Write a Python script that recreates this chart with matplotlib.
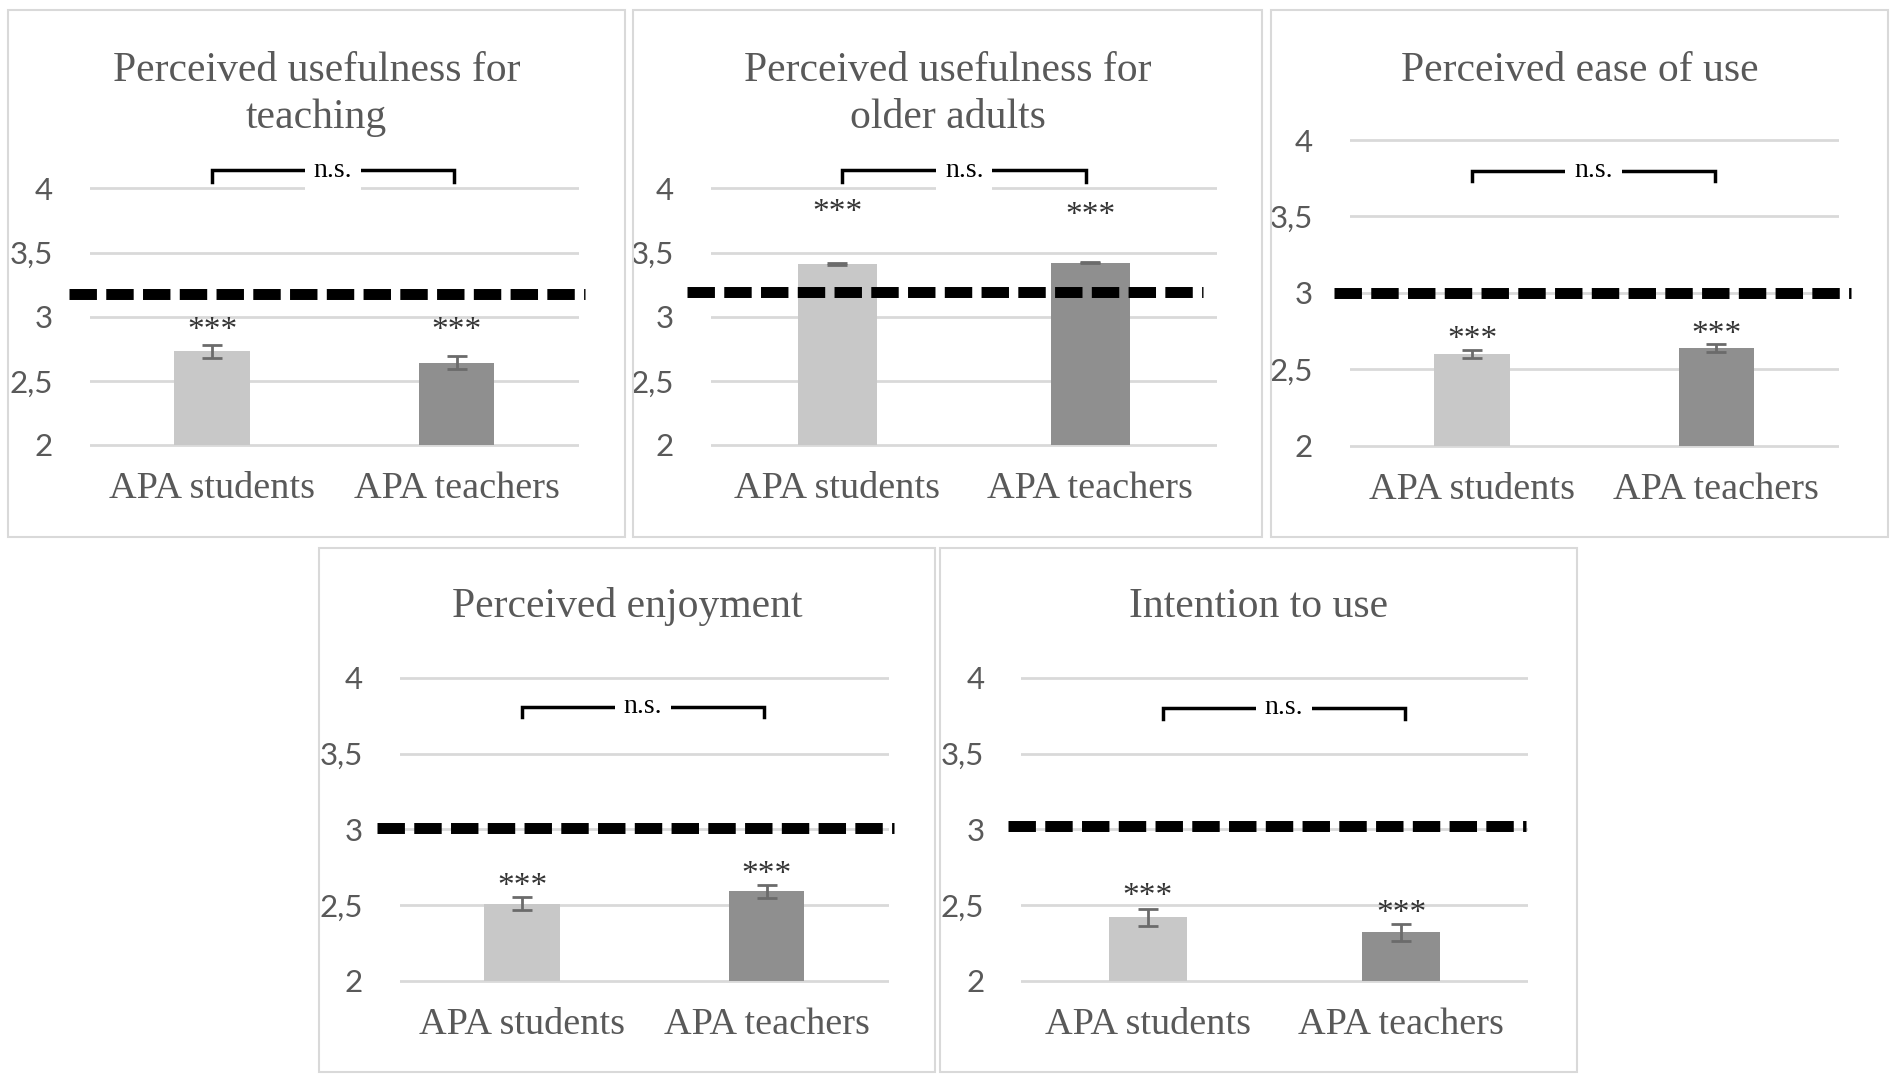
import matplotlib
matplotlib.use("Agg")
import matplotlib.pyplot as plt
from matplotlib.patches import Rectangle
from matplotlib.transforms import offset_copy

# ---------------- data ----------------
titles = ["Perceived usefulness for\nteaching",
          "Perceived usefulness for\nolder adults",
          "Perceived ease of use",
          "Perceived enjoyment",
          "Intention to use"]
groups = ["APA students", "APA teachers"]
means_students = [2.73, 3.41, 2.60, 2.51, 2.42]
means_teachers = [2.64, 3.42, 2.64, 2.59, 2.32]
err_students = [0.05, 0.005, 0.028, 0.044, 0.055]
err_teachers = [0.05, 0.005, 0.028, 0.044, 0.057]
test_values = [3.18, 3.19, 3.00, 3.01, 3.02]
star_y_students = [2.92, 3.84, 2.72, 2.65, 2.58]
star_y_teachers = [2.92, 3.82, 2.755, 2.73, 2.47]
star_label = "***"
bracket_top = [4.14, 4.14, 3.80, 3.81, 3.80]
bracket_leg = [4.05, 4.05, 3.73, 3.74, 3.73]
comparison_label = "n.s."
y_ticks = [2, 2.5, 3, 3.5, 4]
y_tick_labels = ["2", "2,5", "3", "3,5", "4"]

# ---------------- layout (pixels) ----------------
W, H = 1902, 1080
layout = [
    dict(border=(8, 10, 625, 537), ax=(89.8, 578.8, 445.0, 188.4), title_y=94.5,
         dash=(-0.043, 1.012), br=(0.0, 0.99)),
    dict(border=(633, 10, 1262, 537), ax=(710.8, 1216.9, 445.0, 188.4), title_y=94.5,
         dash=(-0.048, 0.973), br=(0.02, 0.983)),
    dict(border=(1271, 10, 1888, 537), ax=(1350.0, 1838.5, 445.6, 140.0), title_y=70.5,
         dash=(-0.033, 1.025), br=(0.0, 0.995)),
    dict(border=(319, 548, 934.5, 1072), ax=(399.8, 888.8, 980.8, 677.8), title_y=606.5,
         dash=(-0.046, 1.011), br=(0.0, 0.99)),
    dict(border=(940, 548, 1577, 1072), ax=(1021.3, 1527.6, 980.8, 677.8), title_y=606.5,
         dash=(-0.027, 0.996), br=(0.06, 1.015)),
]

GRAY_TXT = "#595959"
SERIF = "Liberation Serif"

fig = plt.figure(figsize=(W / 100, H / 100), dpi=100)
fig.patch.set_facecolor("white")

for i, L in enumerate(layout):
    bx0, by0, bx1, by1 = L["border"]
    fig.add_artist(Rectangle((bx0 / W, 1 - by1 / H), (bx1 - bx0) / W, (by1 - by0) / H,
                             transform=fig.transFigure, fill=False,
                             edgecolor="#d9d9d9", lw=1.5))
    fig.text((bx0 + bx1) / 2 / W, 1 - L["title_y"] / H, titles[i], ha="center", va="center",
             fontsize=30, family=SERIF, color=GRAY_TXT, linespacing=1.3)

    axL, axR, y2, y4 = L["ax"]
    s = (y2 - y4) / 2.0
    ylo, yhi = 1.97, 4.05
    bot_px = y2 + (2 - ylo) * s
    top_px = y4 - (yhi - 4) * s
    ax = fig.add_axes([axL / W, 1 - bot_px / H, (axR - axL) / W, (bot_px - top_px) / H])
    ax.set_xlim(-0.5, 1.5)
    ax.set_ylim(ylo, yhi)
    ax.set_facecolor("none")
    for sp in ax.spines.values():
        sp.set_visible(False)
    ax.set_yticks(y_ticks)
    ax.set_yticklabels(y_tick_labels, family="Lato", fontsize=22.5, color=GRAY_TXT)
    ax.set_xticks([0, 1])
    ax.set_xticklabels(groups, family=SERIF, fontsize=27.5, color=GRAY_TXT)
    ax.tick_params(axis="both", length=0)
    ax.tick_params(axis="y", pad=26.5)
    ax.tick_params(axis="x", pad=16)
    ax.yaxis.grid(True, color="#d9d9d9", lw=2)
    ax.set_axisbelow(True)

    vals = [means_students[i], means_teachers[i]]
    errs = [err_students[i], err_teachers[i]]
    ax.bar([0, 1], [v - 2 for v in vals], bottom=2, width=0.31,
           color=["#c8c8c8", "#8f8f8f"], yerr=errs,
           error_kw=dict(ecolor="#6b6b6b", elinewidth=2, capsize=7, capthick=2),
           zorder=2)

    # test-value dashed line
    d0, d1 = L["dash"]
    ax.plot([d0, d1], [test_values[i], test_values[i]], transform=ax.get_yaxis_transform(),
            color="black", lw=7.9, dashes=(2.5, 0.85), dash_capstyle="butt",
            clip_on=False, zorder=4)

    # significance stars
    for x, sy in zip([0, 1], [star_y_students[i], star_y_teachers[i]]):
        tr = offset_copy(ax.transData, fig=fig, x=0, y=-8.9, units="points")
        ax.text(x, sy, star_label, ha="center", va="baseline", fontsize=24,
                family=SERIF, color="#333333", transform=tr, clip_on=False, zorder=5)

    # comparison bracket
    b0, b1 = L["br"]
    ax.plot([b0, b0, b1, b1], [bracket_leg[i], bracket_top[i], bracket_top[i], bracket_leg[i]],
            color="black", lw=2.5, clip_on=False, zorder=5, solid_joinstyle="miter")
    tr = offset_copy(ax.transData, fig=fig, x=0, y=-4.5, units="points")
    ax.text((b0 + b1) / 2, bracket_top[i], comparison_label, ha="center", va="baseline",
            fontsize=20, family=SERIF, color="black", transform=tr, clip_on=False, zorder=6,
            bbox=dict(boxstyle="square,pad=0.32", fc="white", ec="none"))

fig.savefig("out.png", dpi=100, facecolor="white")
